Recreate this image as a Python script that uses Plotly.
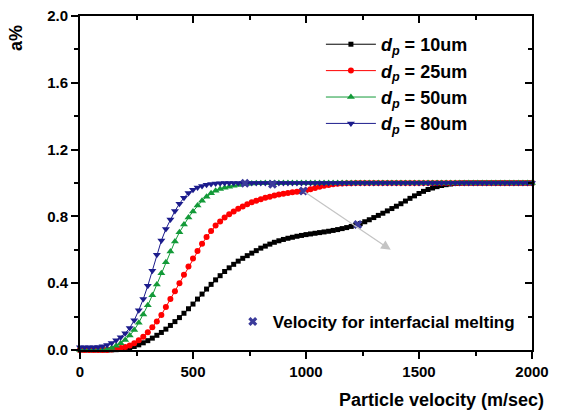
import plotly.graph_objects as go

# x grid (m/sec)
velocity = list(range(0, 2001, 20))

a_10um = [0.0, 0.0, 0.0, 0.0, 0.0, 0.0, 0.0, 0.001, 0.002, 0.004,
          0.008, 0.014, 0.021, 0.031, 0.043, 0.056, 0.071, 0.088, 0.105, 0.125,
          0.147, 0.170, 0.194, 0.220, 0.247, 0.275, 0.305, 0.335, 0.365, 0.393,
          0.420, 0.445, 0.470, 0.492, 0.513, 0.532, 0.549, 0.565, 0.580, 0.595,
          0.610, 0.622, 0.634, 0.645, 0.654, 0.662, 0.669, 0.675, 0.681, 0.686,
          0.691, 0.695, 0.699, 0.703, 0.707, 0.711, 0.716, 0.721, 0.727, 0.733,
          0.740, 0.748, 0.757, 0.768, 0.780, 0.793, 0.806, 0.819, 0.833, 0.847,
          0.861, 0.876, 0.892, 0.908, 0.923, 0.937, 0.950, 0.961, 0.970, 0.978,
          0.985, 0.990, 0.994, 0.997, 0.999, 1.0, 1.0, 1.0, 1.0, 1.0,
          1.0, 1.0, 1.0, 1.0, 1.0, 1.0, 1.0, 1.0, 1.0, 1.0,
          1.0]

a_25um = [0.0, 0.0, 0.0, 0.0, 0.0, 0.0, 0.0, 0.003, 0.007, 0.012,
          0.018, 0.027, 0.040, 0.058, 0.080, 0.106, 0.136, 0.170, 0.210, 0.258,
          0.305, 0.352, 0.400, 0.450, 0.500, 0.548, 0.593, 0.636, 0.676, 0.713,
          0.745, 0.770, 0.793, 0.813, 0.830, 0.846, 0.860, 0.873, 0.884, 0.894,
          0.903, 0.911, 0.918, 0.925, 0.931, 0.936, 0.940, 0.944, 0.947, 0.950,
          0.955, 0.962, 0.970, 0.977, 0.983, 0.988, 0.992, 0.995, 0.997, 0.998,
          0.999, 1.0, 1.0, 1.0, 1.0, 1.0, 1.0, 1.0, 1.0, 1.0,
          1.0, 1.0, 1.0, 1.0, 1.0, 1.0, 1.0, 1.0, 1.0, 1.0,
          1.0, 1.0, 1.0, 1.0, 1.0, 1.0, 1.0, 1.0, 1.0, 1.0,
          1.0, 1.0, 1.0, 1.0, 1.0, 1.0, 1.0, 1.0, 1.0, 1.0,
          1.0]

a_50um = [0.0, 0.0, 0.0, 0.0, 0.0, 0.0, 0.005, 0.012, 0.025, 0.040,
          0.060, 0.087, 0.120, 0.163, 0.213, 0.268, 0.328, 0.392, 0.459, 0.526,
          0.590, 0.650, 0.705, 0.752, 0.793, 0.830, 0.865, 0.893, 0.918, 0.938,
          0.953, 0.964, 0.972, 0.978, 0.983, 0.988, 0.992, 0.995, 0.997, 0.998,
          0.999, 1.0, 1.0, 1.0, 1.0, 1.0, 1.0, 1.0, 1.0, 1.0,
          1.0, 1.0, 1.0, 1.0, 1.0, 1.0, 1.0, 1.0, 1.0, 1.0,
          1.0, 1.0, 1.0, 1.0, 1.0, 1.0, 1.0, 1.0, 1.0, 1.0,
          1.0, 1.0, 1.0, 1.0, 1.0, 1.0, 1.0, 1.0, 1.0, 1.0,
          1.0, 1.0, 1.0, 1.0, 1.0, 1.0, 1.0, 1.0, 1.0, 1.0,
          1.0, 1.0, 1.0, 1.0, 1.0, 1.0, 1.0, 1.0, 1.0, 1.0,
          1.0]

a_80um = [0.016, 0.016, 0.016, 0.016, 0.018, 0.022, 0.030, 0.042, 0.058, 0.077,
          0.100, 0.132, 0.178, 0.238, 0.305, 0.385, 0.475, 0.570, 0.655, 0.725,
          0.782, 0.832, 0.876, 0.912, 0.940, 0.960, 0.973, 0.982, 0.989, 0.994,
          0.997, 0.999, 1.0, 1.0, 1.0, 1.0, 1.0, 1.0, 1.0, 1.0,
          1.0, 1.0, 1.0, 1.0, 1.0, 1.0, 1.0, 1.0, 1.0, 1.0,
          1.0, 1.0, 1.0, 1.0, 1.0, 1.0, 1.0, 1.0, 1.0, 1.0,
          1.0, 1.0, 1.0, 1.0, 1.0, 1.0, 1.0, 1.0, 1.0, 1.0,
          1.0, 1.0, 1.0, 1.0, 1.0, 1.0, 1.0, 1.0, 1.0, 1.0,
          1.0, 1.0, 1.0, 1.0, 1.0, 1.0, 1.0, 1.0, 1.0, 1.0,
          1.0, 1.0, 1.0, 1.0, 1.0, 1.0, 1.0, 1.0, 1.0, 1.0,
          1.0]

# velocity for interfacial melting (80, 50, 25, 10 um)
melt_v = [730, 852, 988, 1229]
melt_a = [0.998, 0.992, 0.952, 0.752]

# arrow end point (data coords)
arrow_end_v = 1375
arrow_end_a = 0.60

series_names = ["<i>d</i><sub><i>p</i></sub> = 10um",
                "<i>d</i><sub><i>p</i></sub> = 25um",
                "<i>d</i><sub><i>p</i></sub> = 50um",
                "<i>d</i><sub><i>p</i></sub> = 80um"]
series_values = [a_10um, a_25um, a_50um, a_80um]
series_colors = ["#000000", "#ff0000", "#139a38", "#1c1c8c"]
series_symbols = ["square", "circle", "triangle-up", "triangle-down"]
series_sizes = [5, 6, 7, 7]

x_ticks = [0, 500, 1000, 1500, 2000]
y_ticks = [0.0, 0.4, 0.8, 1.2, 1.6, 2.0]
x_minor = [250, 750, 1250, 1750]
y_minor = [0.2, 0.6, 1.0, 1.4, 1.8]

FONT = "Liberation Sans"

fig = go.Figure()
for name, vals, col, sym, sz in zip(series_names, series_values, series_colors,
                                     series_symbols, series_sizes):
    fig.add_trace(go.Scatter(
        x=velocity, y=vals, mode="lines+markers", name=name,
        line=dict(color=col, width=1),
        marker=dict(symbol=sym, size=sz, color=col, line=dict(width=0)),
        cliponaxis=False, legend="legend"))

fig.add_trace(go.Scatter(
    x=melt_v, y=melt_a, mode="markers", name="Velocity for interfacial melting",
    marker=dict(symbol="x", size=8, color="#3b3b9b", line=dict(width=0)),
    legend="legend2", cliponaxis=False))

fig.add_annotation(x=arrow_end_v, y=arrow_end_a, ax=melt_v[2], ay=melt_a[2],
                   xref="x", yref="y", axref="x", ayref="y", text="",
                   showarrow=True, arrowhead=2, arrowsize=1.6, arrowwidth=1.2,
                   arrowcolor="#c4c4c4", standoff=0, startstandoff=0)

axis_font = dict(family=FONT, size=15, color="black", weight="bold")

fig.update_layout(
    width=563, height=413,
    margin=dict(l=80, r=31, t=16, b=63),
    plot_bgcolor="white", paper_bgcolor="white",
    showlegend=True,
    xaxis=dict(range=[0, 2000], tickvals=x_ticks, ticktext=[str(v) for v in x_ticks],
               showgrid=False, zeroline=False, showline=True, linecolor="black",
               linewidth=2, mirror=True, ticks="outside", ticklen=7, tickwidth=1.5,
               tickcolor="black", tickfont=axis_font, automargin=False,
               minor=dict(tickvals=x_minor, ticks="outside",
                          ticklen=4, tickwidth=1.5, tickcolor="black", showgrid=False)),
    yaxis=dict(range=[0, 2.0], tickvals=y_ticks, ticktext=[f"{v:.1f}" for v in y_ticks],
               showgrid=False, zeroline=False, showline=True, linecolor="black",
               linewidth=2, mirror=True, ticks="outside", ticklen=7, tickwidth=1.5,
               tickcolor="black", tickfont=axis_font, automargin=False,
               minor=dict(tickvals=y_minor, ticks="outside",
                          ticklen=4, tickwidth=1.5, tickcolor="black", showgrid=False)),
    xaxis2=dict(range=[0, 2000], overlaying="x", side="top", anchor="y",
                tickvals=x_ticks, showticklabels=False, showgrid=False, zeroline=False,
                showline=False, ticks="inside", ticklen=7, tickwidth=1.5, tickcolor="black",
                automargin=False,
                minor=dict(tickvals=x_minor, ticks="inside",
                           ticklen=4, tickwidth=1.5, tickcolor="black", showgrid=False)),
    yaxis2=dict(range=[0, 2.0], overlaying="y", side="right", anchor="x",
                tickvals=y_ticks, showticklabels=False, showgrid=False, zeroline=False,
                showline=False, ticks="inside", ticklen=7, tickwidth=1.5, tickcolor="black",
                automargin=False,
                minor=dict(tickvals=y_minor, ticks="inside",
                           ticklen=4, tickwidth=1.5, tickcolor="black", showgrid=False)),
    legend=dict(x=0.533, y=0.97, xanchor="left", yanchor="top",
                bgcolor="rgba(0,0,0,0)", borderwidth=0, itemwidth=50,
                tracegroupgap=0,
                font=dict(family=FONT, size=18, color="black", weight="bold")),
    legend2=dict(x=0.338, y=0.084, xanchor="left", yanchor="middle",
                 bgcolor="rgba(0,0,0,0)", borderwidth=0, itemwidth=30,
                 font=dict(family=FONT, size=17, color="black", weight="bold")),
)

# dummy trace to activate overlay axes
fig.add_trace(go.Scatter(x=[None], y=[None], xaxis="x2", yaxis="y2",
                         showlegend=False, hoverinfo="skip"))

fig.add_annotation(text="Particle velocity (m/sec)", xref="paper", yref="paper",
                   x=1.03, y=-0.15, xanchor="right", yanchor="middle", showarrow=False,
                   font=dict(family=FONT, size=18, color="black", weight="bold"))
fig.add_annotation(text="a%", xref="paper", yref="paper",
                   x=-0.143, y=0.935, xanchor="center", yanchor="middle", showarrow=False,
                   textangle=-90,
                   font=dict(family=FONT, size=18, color="black", weight="bold"))

fig.write_html("out.html", config={"displayModeBar": False},
               post_script="document.body.style.margin='0px';document.body.style.overflow='hidden';")
